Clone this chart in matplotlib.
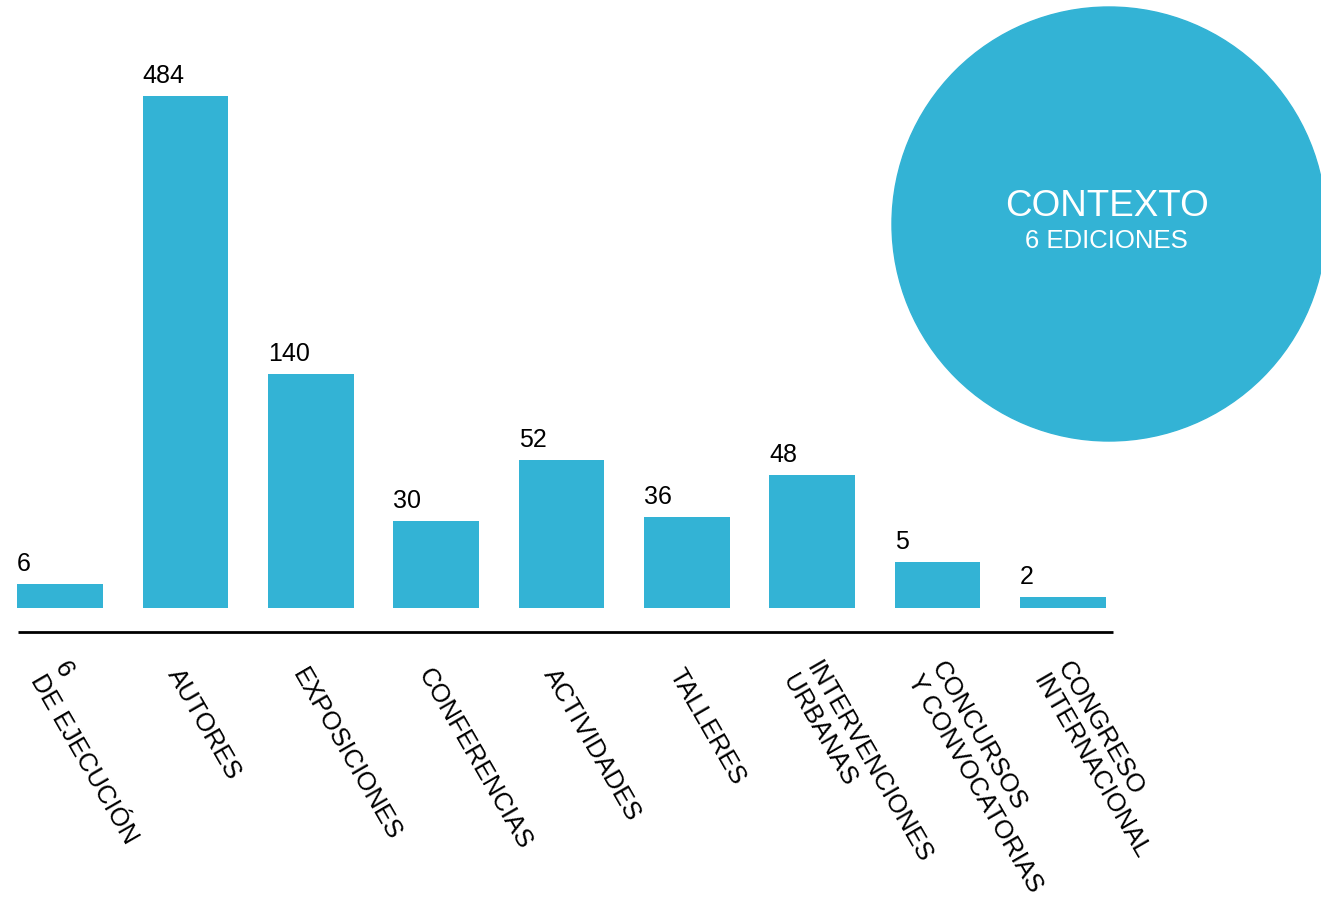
import matplotlib
matplotlib.use("Agg")
import matplotlib.pyplot as plt
from matplotlib.patches import Circle

plt.rcParams['font.family'] = ['Liberation Sans', 'DejaVu Sans']

# datos
categorias = ["6\nDE EJECUCIÓN", "AUTORES", "EXPOSICIONES", "CONFERENCIAS", "ACTIVIDADES",
              "TALLERES", "INTERVENCIONES\nURBANAS", "CONCURSOS\nY CONVOCATORIAS",
              "CONGRESO\nINTERNACIONAL"]
valores = [6, 484, 140, 30, 52, 36, 48, 5, 2]
# altura visual de las barras (no proporcional a los valores en el original)
alturas = [24, 512, 234, 87, 148, 91, 133, 46, 11]

azul = "#33B3D5"

fig = plt.figure(figsize=(13.21, 9.14), dpi=100)
ax = fig.add_axes([0, 0, 1, 1])
ax.set_xlim(-0.48, 10.06)
ax.set_ylim(-306, 608)
ax.axis("off")

x = list(range(len(valores)))
ax.bar(x, alturas, width=0.685, color=azul)

# linea base
ax.plot([-0.34, 8.4], [-24, -24], color="black", lw=2, solid_capstyle="butt")

# etiquetas de valor
for i in x:
    ax.text(i - 0.3425, alturas[i] + 8, str(valores[i]), ha="left", va="bottom",
            fontsize=18, color="black")

# etiquetas de categoria
for i in x:
    ax.text(i - 0.1, -62, categorias[i], rotation=-60, rotation_mode="anchor",
            ha="left", va="center", multialignment="left", linespacing=1.2,
            fontsize=18.5, color="black")

# circulo
cax = fig.add_axes([892 / 1321, (914 - 441) / 914, 434 / 1321, 434 / 914])
cax.set_xlim(-1, 1)
cax.set_ylim(-1, 1)
cax.axis("off")
cax.add_patch(Circle((0, 0), 1, color=azul, clip_on=False))
cax.text(-0.01, 0.037, "CONTEXTO", ha="center", va="baseline", fontsize=26.5, color="white")
cax.text(-0.01, -0.11, "6 EDICIONES", ha="center", va="baseline", fontsize=18.5, color="white")

fig.savefig("out.png", dpi=100)
